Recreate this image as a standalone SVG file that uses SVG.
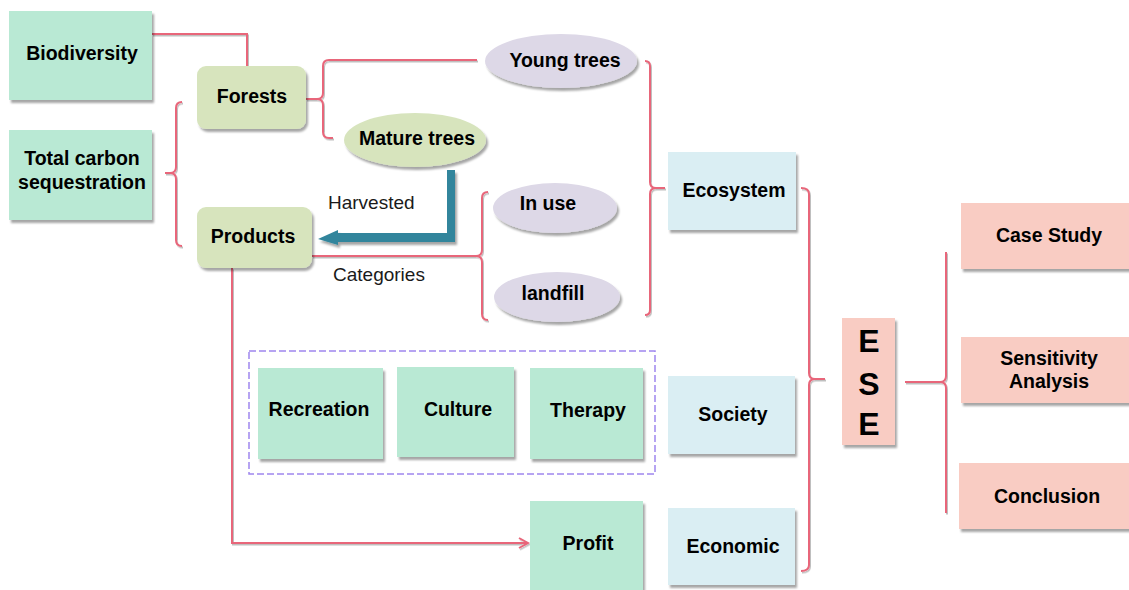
<svg xmlns="http://www.w3.org/2000/svg" width="1129" height="590" viewBox="0 0 1129 590">
<defs>
<filter id="sh" x="-10%" y="-10%" width="130%" height="140%">
<feDropShadow dx="2" dy="3" stdDeviation="1.2" flood-color="#000" flood-opacity="0.35"/>
</filter>
<filter id="lsh" x="-10%" y="-10%" width="130%" height="130%">
<feDropShadow dx="1" dy="1.5" stdDeviation="0.6" flood-color="#000" flood-opacity="0.25"/>
</filter>
<marker id="arr" viewBox="0 0 12 12" refX="10" refY="6" markerWidth="12" markerHeight="12" markerUnits="userSpaceOnUse" orient="auto">
<path d="M1,1 L10,6 L1,11" fill="none" stroke="#E8667A" stroke-width="2"/>
</marker>
<style>
.mint{fill:#B9E9D4;filter:url(#sh)}
.olive{fill:#D7E4BD;filter:url(#sh)}
.lav{fill:#DDD8E7;filter:url(#sh)}
.blue{fill:#DAEEF3;filter:url(#sh)}
.pink{fill:#F9CCC3;filter:url(#sh)}
.t{font-family:"Liberation Sans",Arial,sans-serif;font-weight:bold;font-size:19.5px;fill:#000;text-anchor:middle}
.n{font-family:"Liberation Sans",Arial,sans-serif;font-size:19px;fill:#1a1a1a}
.big{font-family:"Liberation Sans",Arial,sans-serif;font-weight:bold;font-size:32px;fill:#000;text-anchor:middle}
.ln{fill:none;stroke:#E8667A;stroke-width:2;filter:url(#lsh)}
</style>
</defs>

<g id="connectors">
<path class="ln" d="M152,34 H247 V66"/>
<path class="ln" d="M182,102 Q176,102 176,108 V167 Q176,173 170,173 H165 M170,173 Q176,173 176,179 V240 Q176,246 182,246"/>
<path class="ln" d="M306,99 H317 Q323,99 323,93 V66 Q323,60 329,60 H477 M317,99 Q323,99 323,105 V132 Q323,138 329,138 H333"/>
<path class="ln" d="M312,256 H476 Q482,256 482,250 V198 Q482,192 488,192 M476,256 Q482,256 482,262 V314 Q482,320 488,320"/>
<path class="ln" d="M645,61 Q650,61 650,66 V182 Q650,188 656,188 H665 M656,188 Q650,188 650,194 V310 Q650,315 645,315"/>
<path class="ln" d="M801,188 Q809,188 809,194 V373 Q809,379 815,379 H825 M815,379 Q809,379 809,385 V565 Q809,571 801,571"/>
<path class="ln" d="M905,382 H940 Q946,382 946,376 V252 M940,382 Q946,382 946,388 V513"/>
<path class="ln" d="M232,268 V543 H528" marker-end="url(#arr)"/>
<g id="harvest-arrow" filter="url(#sh)">
<path d="M447,170 H455 V242 H338 L338,245 L318,239 L338,230 L338,233 H447 Z" fill="#31859C"/>
</g>
</g>

<g id="biodiversity"><rect class="mint" x="9" y="11" width="143" height="89"/><text class="t" x="82" y="60">Biodiversity</text></g>
<g id="total-carbon"><rect class="mint" x="9" y="130" width="143" height="90"/><text class="t" x="82" y="165">Total carbon</text><text class="t" x="82" y="189">sequestration</text></g>
<g id="forests"><rect class="olive" x="197" y="66" width="109" height="63" rx="9"/><text class="t" x="252" y="103">Forests</text></g>
<g id="products"><rect class="olive" x="197" y="207" width="115" height="61" rx="9"/><text class="t" x="253" y="243">Products</text></g>
<g id="young-trees"><ellipse class="lav" cx="561" cy="61" rx="76" ry="27"/><text class="t" x="565" y="67">Young trees</text></g>
<g id="mature-trees"><ellipse class="olive" cx="415" cy="140" rx="71" ry="27"/><text class="t" x="417" y="145">Mature trees</text></g>
<g id="in-use"><ellipse class="lav" cx="555" cy="208" rx="62" ry="25"/><text class="t" x="548" y="210">In use</text></g>
<g id="landfill"><ellipse class="lav" cx="557" cy="297" rx="63" ry="25"/><text class="t" x="553" y="300">landfill</text></g>
<g id="harvested-label"><text class="n" x="328" y="209">Harvested</text></g>
<g id="categories-label"><text class="n" x="333" y="281">Categories</text></g>
<g id="ecosystem"><rect class="blue" x="668" y="152" width="128" height="78"/><text class="t" x="734" y="197">Ecosystem</text></g>
<g id="society"><rect class="blue" x="668" y="376" width="127" height="78"/><text class="t" x="733" y="421">Society</text></g>
<g id="economic"><rect class="blue" x="668" y="508" width="127" height="77"/><text class="t" x="733" y="553">Economic</text></g>
<g id="ese"><rect class="pink" x="842" y="318" width="53" height="127"/><text class="big" x="869" y="352">E</text><text class="big" x="869" y="395">S</text><text class="big" x="869" y="435">E</text></g>
<g id="case-study"><rect class="pink" x="961" y="203" width="172" height="66"/><text class="t" x="1049" y="242">Case Study</text></g>
<g id="sensitivity"><rect class="pink" x="961" y="337" width="172" height="66"/><text class="t" x="1049" y="365">Sensitivity</text><text class="t" x="1049" y="388">Analysis</text></g>
<g id="conclusion"><rect class="pink" x="959" y="463" width="174" height="66"/><text class="t" x="1047" y="503">Conclusion</text></g>
<g id="society-group"><rect x="249" y="351" width="406" height="123" fill="none" stroke="#9F86EE" stroke-width="1.5" stroke-dasharray="7,3"/></g>
<g id="recreation"><rect class="mint" x="258" y="368" width="125" height="91"/><text class="t" x="319" y="416">Recreation</text></g>
<g id="culture"><rect class="mint" x="397" y="367" width="117" height="90"/><text class="t" x="458" y="416">Culture</text></g>
<g id="therapy"><rect class="mint" x="530" y="368" width="113" height="91"/><text class="t" x="588" y="417">Therapy</text></g>
<g id="profit"><rect class="mint" x="530" y="501" width="113" height="95"/><text class="t" x="588" y="550">Profit</text></g>
</svg>
